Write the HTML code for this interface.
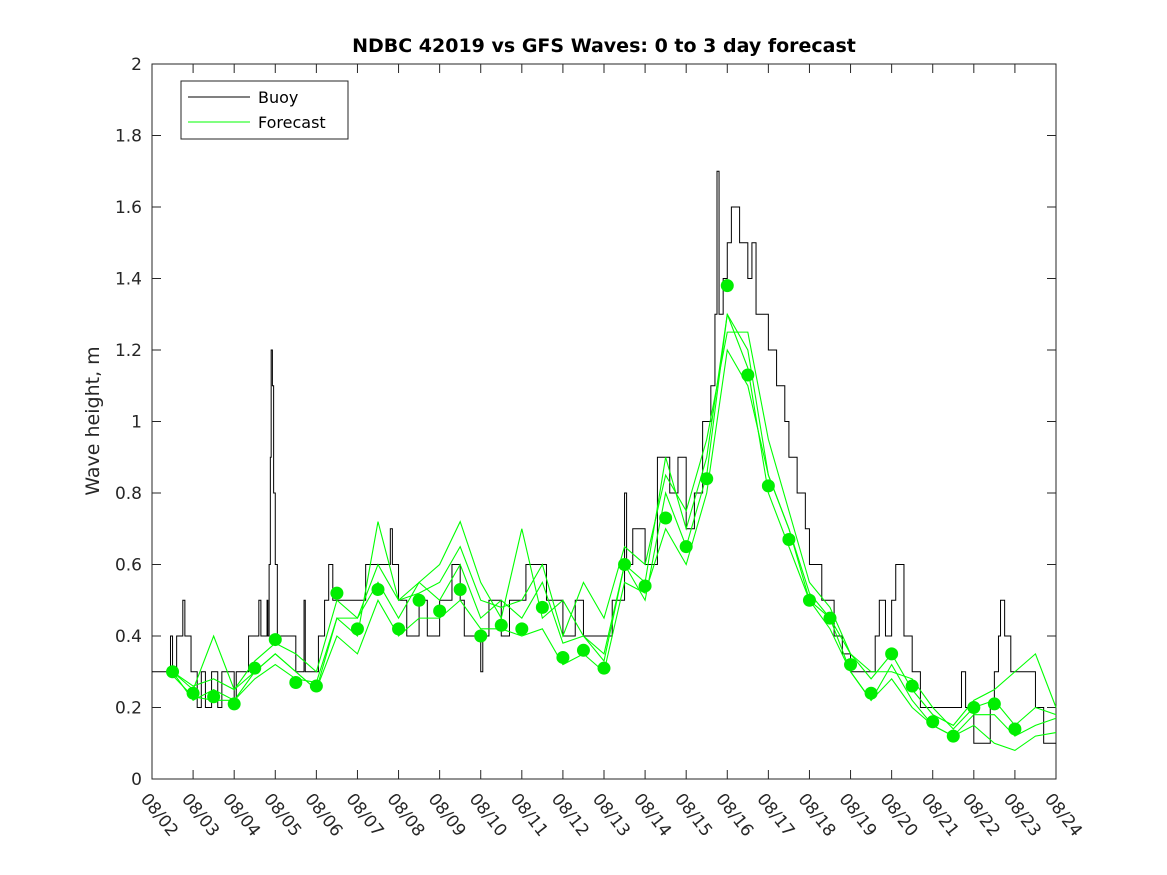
<!DOCTYPE html>
<html><head><meta charset="utf-8"><style>
body{margin:0;background:#fff}
svg{display:block;font-family:"DejaVu Sans","Liberation Sans",sans-serif}
</style></head><body>
<svg id="chart" width="1167" height="875">
<rect x="0" y="0" width="1167" height="875" fill="#fff"/>
<rect x="152" y="64" width="904" height="715" fill="#fff" stroke="#262626" stroke-width="1"/>
<text x="604" y="52" text-anchor="middle" font-size="19" font-weight="bold" fill="#000">NDBC 42019 vs GFS Waves: 0 to 3 day forecast</text>
<text transform="translate(99,421) rotate(-90)" text-anchor="middle" font-size="19" fill="#262626">Wave height, m</text>
<g id="axes"></g>
<g id="marks"></g>
<g>
<rect x="181" y="81" width="167" height="58" fill="#fff" stroke="#262626" stroke-width="1"/>
<line x1="188" y1="97" x2="250" y2="97" stroke="#000" stroke-width="1"/>
<text x="258" y="103" font-size="16" fill="#000">Buoy</text>
<line x1="188" y1="122" x2="250" y2="122" stroke="#00ff00" stroke-width="1"/>
<text x="258" y="128" font-size="16" fill="#000">Forecast</text>
</g>
</svg>
<script>
const yTicks=[0,0.2,0.4,0.6,0.8,1,1.2,1.4,1.6,1.8,2];
const xTickLabels=["08/02","08/03","08/04","08/05","08/06","08/07","08/08","08/09","08/10","08/11","08/12","08/13","08/14","08/15","08/16","08/17","08/18","08/19","08/20","08/21","08/22","08/23","08/24"];
const buoyTimes=[0,0.45,0.5,0.6,0.75,0.8,0.95,1.1,1.2,1.3,1.45,1.6,1.7,2.0,2.05,2.35,2.6,2.65,2.8,2.82,2.85,2.88,2.9,2.93,2.96,3.0,3.05,3.5,3.7,3.73,4.05,4.2,4.3,4.4,5.2,5.8,5.85,6.0,6.2,6.5,6.7,7.0,7.3,7.5,7.6,8.0,8.05,8.2,8.5,8.7,9.0,9.1,9.6,10.0,10.3,10.5,11.0,11.2,11.5,11.55,11.7,12.0,12.3,12.6,12.8,13.0,13.2,13.4,13.6,13.7,13.75,13.8,13.9,14.0,14.1,14.3,14.5,14.6,14.7,15.0,15.2,15.4,15.5,15.7,15.9,16.0,16.3,16.6,16.8,17.0,17.6,17.7,17.85,18.0,18.1,18.3,18.5,18.7,19.7,19.8,20.0,20.4,20.5,20.6,20.65,20.75,20.9,21.5,21.7,22.0];
const buoyValues=[0.3,0.4,0.3,0.4,0.5,0.4,0.3,0.2,0.3,0.2,0.3,0.2,0.3,0.2,0.3,0.4,0.5,0.4,0.5,0.4,0.6,0.9,1.2,1.1,0.8,0.6,0.4,0.3,0.5,0.3,0.4,0.5,0.6,0.5,0.6,0.7,0.6,0.5,0.4,0.5,0.4,0.5,0.6,0.5,0.4,0.3,0.4,0.5,0.4,0.5,0.5,0.6,0.5,0.4,0.5,0.4,0.4,0.5,0.8,0.6,0.7,0.6,0.9,0.8,0.9,0.7,0.8,1.0,1.1,1.3,1.7,1.3,1.4,1.5,1.6,1.5,1.4,1.5,1.3,1.2,1.1,1.0,0.9,0.8,0.7,0.6,0.5,0.4,0.35,0.3,0.4,0.5,0.4,0.5,0.6,0.4,0.3,0.2,0.3,0.2,0.1,0.2,0.3,0.4,0.5,0.4,0.3,0.2,0.1,0.1];
const dotValues=[0.30,0.24,0.23,0.21,0.31,0.39,0.27,0.26,0.52,0.42,0.53,0.42,0.50,0.47,0.53,0.40,0.43,0.42,0.48,0.34,0.36,0.31,0.60,0.54,0.73,0.65,0.84,1.38,1.13,0.82,0.67,0.50,0.45,0.32,0.24,0.35,0.26,0.16,0.12,0.20,0.21,0.14];
const fc1=[0.30,0.25,0.40,0.25,0.30,0.35,0.30,0.25,0.45,0.40,0.72,0.50,0.55,0.60,0.72,0.55,0.45,0.70,0.45,0.50,0.40,0.35,0.60,0.55,0.90,0.70,0.90,1.30,1.20,0.85,0.70,0.52,0.45,0.35,0.28,0.35,0.25,0.18,0.15,0.22,0.25,0.30,0.35,0.20];
const fc2=[0.30,0.22,0.25,0.22,0.28,0.32,0.28,0.27,0.45,0.45,0.55,0.45,0.55,0.50,0.60,0.45,0.50,0.45,0.55,0.38,0.40,0.33,0.60,0.50,0.80,0.65,0.85,1.30,1.15,0.80,0.65,0.50,0.45,0.30,0.22,0.32,0.22,0.15,0.12,0.18,0.18,0.12,0.15,0.17];
const fc3=[0.29,0.23,0.22,0.22,0.30,0.35,0.30,0.25,0.40,0.35,0.50,0.40,0.45,0.45,0.50,0.42,0.42,0.40,0.42,0.32,0.35,0.30,0.55,0.52,0.70,0.60,0.80,1.20,1.10,0.85,0.70,0.50,0.42,0.30,0.22,0.28,0.20,0.15,0.12,0.15,0.10,0.08,0.12,0.13];
const fc4=[0.30,0.26,0.28,0.25,0.33,0.38,0.35,0.30,0.50,0.45,0.60,0.50,0.52,0.55,0.65,0.50,0.48,0.50,0.60,0.40,0.55,0.45,0.65,0.60,0.85,0.75,0.95,1.25,1.25,0.95,0.75,0.55,0.48,0.35,0.30,0.30,0.28,0.20,0.14,0.20,0.22,0.15,0.20,0.18];

const NS="http://www.w3.org/2000/svg";
const X0=152,X1=1056,Y0=779,Y1=64;
const xs=t=>X0+t*(X1-X0)/22;
const ys=v=>Y0-v*(Y0-Y1)/2;
const axes=document.getElementById('axes'),marks=document.getElementById('marks');
function mk(tag,attrs,parent){const e=document.createElementNS(NS,tag);for(const k in attrs)e.setAttribute(k,attrs[k]);parent.appendChild(e);return e;}

yTicks.forEach((v,i)=>{
  const y=ys(v);
  const l1=mk('line',{x1:X0,x2:X0+9,y1:y,y2:y,stroke:'#262626'},axes);
  
  
  const l2=mk('line',{x1:X1-9,x2:X1,y1:y,y2:y,stroke:'#262626'},axes);
  
  
  const t=mk('text',{x:X0-10,y:y+6,'text-anchor':'end','font-size':17,fill:'#262626'},axes);
  t.textContent=String(v);
  
  
});
xTickLabels.forEach((lab,i)=>{
  const x=xs(i);
  const l1=mk('line',{x1:x,x2:x,y1:Y0,y2:Y0-9,stroke:'#262626'},axes);
  
  
  const l2=mk('line',{x1:x,x2:x,y1:Y1,y2:Y1+9,stroke:'#262626'},axes);
  
  
  const t=mk('text',{transform:`translate(${x-12},${799}) rotate(52)`,'font-size':17,fill:'#262626'},axes);
  t.textContent=lab;
  
  
});

let d='';
buoyTimes.forEach((t,i)=>{
  const x=xs(t),y=ys(buoyValues[i]);
  if(i===0)d+=`M${x},${y}`;else d+=`H${x}V${y}`;
});
d+=`H${xs(22)}`;
const bl=mk('path',{d:d,fill:'none',stroke:'#000','stroke-width':1},marks);



[fc1,fc2,fc3,fc4].forEach((s,k)=>{
  const pts=s.map((v,i)=>`${xs(0.5+i*0.5)},${ys(v)}`).join(' ');
  const p=mk('polyline',{points:pts,fill:'none',stroke:'#00ff00','stroke-width':1.1},marks);
  
  
});
dotValues.forEach((v,i)=>{
  const c=mk('circle',{cx:xs(0.5+i*0.5),cy:ys(v),r:6.5,fill:'#00ee00'},marks);
  
  
});
</script>
</body></html>
